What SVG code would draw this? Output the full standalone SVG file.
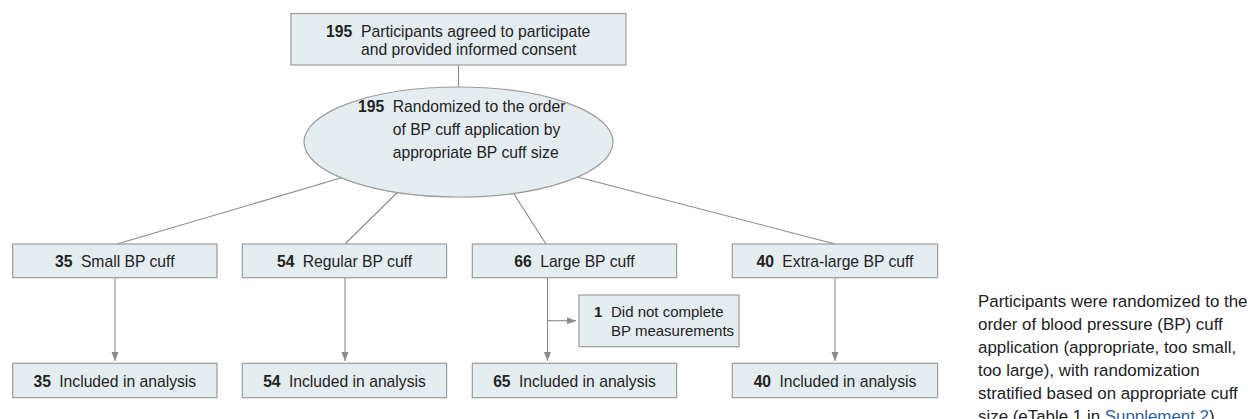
<svg xmlns="http://www.w3.org/2000/svg" width="1248" height="419" viewBox="0 0 1248 419">
<style>
.box{fill:#e6edf1;stroke:#9a9a9a;stroke-width:1.2}
.t{font-family:"Liberation Sans",Arial,sans-serif;font-size:15.7px;fill:#222}
.s{font-size:15px}
.b{font-weight:bold}
.c{stroke:#8a8a8a;stroke-width:1.1;fill:none}
.note{font-family:"Liberation Sans",Arial,sans-serif;font-size:16.9px;fill:#222}
.link{fill:#2b5fae}
</style>
<defs>
<marker id="ah" markerUnits="userSpaceOnUse" markerWidth="10" markerHeight="8" refX="9" refY="3.5" orient="auto">
<path d="M0,0 L9,3.5 L0,7 z" fill="#8a8a8a"/>
</marker>
</defs>
<g id="connectors">
<line class="c" x1="458.5" y1="65" x2="458.5" y2="90"/>
<line class="c" x1="117" y1="244" x2="360" y2="172.3"/>
<line class="c" x1="345" y1="244" x2="410" y2="180"/>
<line class="c" x1="546" y1="244" x2="505" y2="180"/>
<line class="c" x1="835" y1="244" x2="560" y2="172.5"/>
<line class="c" x1="115" y1="278" x2="115" y2="361" marker-end="url(#ah)"/>
<line class="c" x1="345" y1="278" x2="345" y2="361" marker-end="url(#ah)"/>
<line class="c" x1="547.5" y1="278" x2="547.5" y2="361" marker-end="url(#ah)"/>
<line class="c" x1="547.5" y1="320.7" x2="576" y2="320.7" marker-end="url(#ah)"/>
<line class="c" x1="835" y1="278" x2="835" y2="361" marker-end="url(#ah)"/>
</g>
<g id="consent">
<rect class="box" x="291" y="13.5" width="335" height="51.5"/>
<text class="t" y="36.7"><tspan class="b" x="326">195</tspan><tspan x="361">Participants agreed to participate</tspan></text>
<text class="t" x="361" y="55">and provided informed consent</text>
</g>
<g id="randomized">
<ellipse class="box" cx="458.5" cy="142" rx="154.5" ry="55"/>
<text class="t" y="112.3"><tspan class="b" x="358">195</tspan><tspan x="392.7">Randomized to the order</tspan></text>
<text class="t" x="392.7" y="135">of BP cuff application by</text>
<text class="t" x="392.7" y="158">appropriate BP cuff size</text>
</g>
<g id="small">
<rect class="box" x="12.7" y="244" width="204.3" height="33.7"/>
<text class="t" x="114.8" y="266.5" text-anchor="middle"><tspan class="b">35</tspan><tspan dx="4"> Small BP cuff</tspan></text>
</g>
<g id="regular">
<rect class="box" x="242.3" y="244" width="204.3" height="33.7"/>
<text class="t" x="344.5" y="266.5" text-anchor="middle"><tspan class="b">54</tspan><tspan dx="4"> Regular BP cuff</tspan></text>
</g>
<g id="large">
<rect class="box" x="472.3" y="244" width="204.3" height="33.7"/>
<text class="t" x="574.5" y="266.5" text-anchor="middle"><tspan class="b">66</tspan><tspan dx="4"> Large BP cuff</tspan></text>
</g>
<g id="xlarge">
<rect class="box" x="732.3" y="244" width="205.3" height="33.7"/>
<text class="t" x="835" y="266.5" text-anchor="middle"><tspan class="b">40</tspan><tspan dx="4"> Extra-large BP cuff</tspan></text>
</g>
<g id="dropout">
<rect class="box" x="579" y="295" width="160" height="51.7"/>
<text class="t s" y="317.3"><tspan class="b" x="594">1</tspan><tspan x="611">Did not complete</tspan></text>
<text class="t s" x="611" y="335.5">BP measurements</text>
</g>
<g id="an-small">
<rect class="box" x="12.7" y="363.3" width="204.3" height="34.4"/>
<text class="t" x="114.8" y="386.5" text-anchor="middle"><tspan class="b">35</tspan><tspan dx="4"> Included in analysis</tspan></text>
</g>
<g id="an-regular">
<rect class="box" x="242.3" y="363.3" width="204.3" height="34.4"/>
<text class="t" x="344.5" y="386.5" text-anchor="middle"><tspan class="b">54</tspan><tspan dx="4"> Included in analysis</tspan></text>
</g>
<g id="an-large">
<rect class="box" x="472.3" y="363.3" width="204.3" height="34.4"/>
<text class="t" x="574.5" y="386.5" text-anchor="middle"><tspan class="b">65</tspan><tspan dx="4"> Included in analysis</tspan></text>
</g>
<g id="an-xlarge">
<rect class="box" x="732.3" y="363.3" width="205.3" height="34.4"/>
<text class="t" x="835" y="386.5" text-anchor="middle"><tspan class="b">40</tspan><tspan dx="4"> Included in analysis</tspan></text>
</g>
<g id="caption">
<text class="note" x="978" y="306.7">Participants were randomized to the</text>
<text class="note" x="978" y="329.8">order of blood pressure (BP) cuff</text>
<text class="note" x="978" y="352.9">application (appropriate, too small,</text>
<text class="note" x="978" y="376">too large), with randomization</text>
<text class="note" x="978" y="399.1">stratified based on appropriate cuff</text>
<text class="note" x="978" y="422.2">size (eTable 1 in <tspan class="link">Supplement 2</tspan>)</text>
</g>
</svg>
